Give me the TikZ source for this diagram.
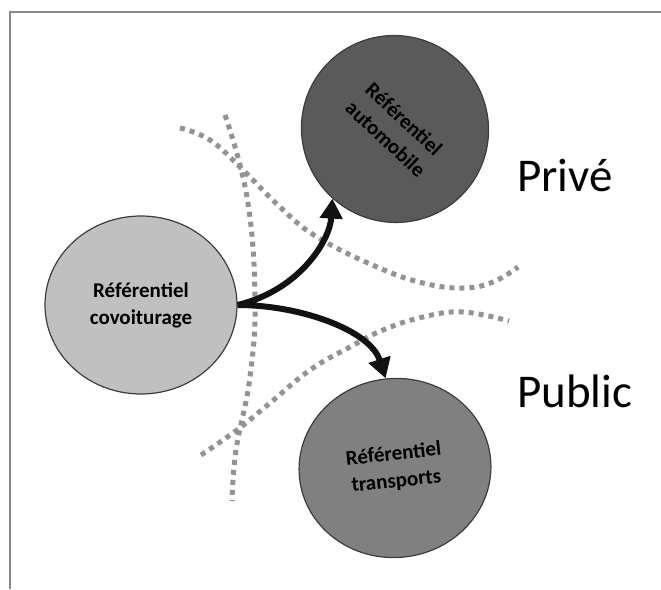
\documentclass[tikz,border=0pt]{standalone}
\usepackage{fontspec}
\setmainfont{Carlito}
\usetikzlibrary{arrows.meta,shapes.geometric}
\definecolor{framegray}{HTML}{8A8A8A}
\definecolor{dotgray}{HTML}{939393}
\definecolor{lightfill}{HTML}{C0C0C0}
\definecolor{darkfill}{HTML}{5A5A5A}
\definecolor{midfill}{HTML}{808080}
\definecolor{edgegray}{HTML}{3C3C3C}
\begin{document}
\begin{tikzpicture}[x=1pt,y=-1pt,
  refnode/.style={ellipse, draw=edgegray, line width=1.2pt, inner sep=0pt, align=center,
    font=\bfseries\fontsize{21}{27}\selectfont, text=black},
  flow/.style={line width=6pt, -{Triangle[width=22pt,length=20pt]}, black!93},
  sep/.style={dotgray, line width=5pt, dash pattern=on 5pt off 5pt},
  bigword/.style={anchor=base west, font=\fontsize{47}{56}\selectfont, inner sep=0pt}]
\useasboundingbox (0,0) rectangle (661,589);
\draw[framegray, line width=2pt] (10,589) -- (10,12) -- (661,12);
% dotted separators
\draw[sep] plot[smooth, tension=0.7] coordinates {(225,115) (247,197) (255,297) (250,377) (236,450) (232,501)};
\draw[sep] plot[smooth, tension=0.7] coordinates {(180,128) (210,140) (243,170) (280,207) (317,237) (377,267) (423,283) (463,288) (493,282) (518,267)};
\draw[sep] plot[smooth, tension=0.7] coordinates {(201,455) (237,430) (270,403) (310,370) (350,347) (383,330) (423,317) (463,312) (509,321)};
% nodes
\node[refnode, fill=lightfill, minimum width=192pt, minimum height=178pt] (cov) at (141,305) {Référentiel\\covoiturage};
\node[refnode, fill=darkfill, minimum width=188pt, minimum height=186pt, rotate=-43] (auto) at (395,129) {Référentiel\\automobile};
\node[refnode, fill=midfill, minimum width=192pt, minimum height=179pt, rotate=6] (trans) at (395,468) {Référentiel\\transports};
\node[bigword] (prive) at (517,191) {Privé};
\node[bigword] (public) at (517,407) {Public};
% arrows
\draw[flow] (cov.east) .. controls (300,290) and (330,240) .. (auto.271);
\draw[flow] (cov.east) .. controls (300,305) and (370,330) .. (trans.90);
\end{tikzpicture}
\end{document}
